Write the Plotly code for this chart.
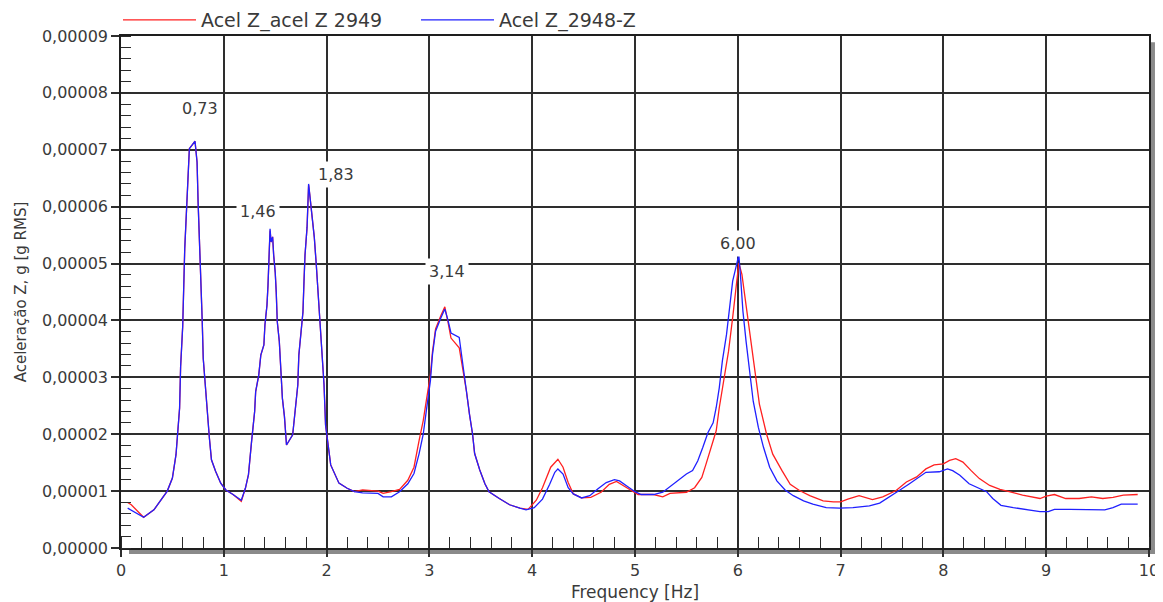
import plotly.graph_objects as go

# ---------------- data ----------------
SCALE = 1e-5  # values below are in units of 1e-5 g RMS

freq_2949 = [0.065, 0.10, 0.22, 0.32, 0.45, 0.50, 0.535, 0.55, 0.57, 0.58,
             0.60, 0.62, 0.64, 0.66, 0.665, 0.72, 0.74, 0.75, 0.765, 0.78,
             0.79, 0.80, 0.82, 0.84, 0.86, 0.88, 0.92, 0.97, 1.02, 1.09,
             1.17, 1.21, 1.24, 1.27, 1.30, 1.31, 1.34, 1.36, 1.39, 1.40,
             1.42, 1.43, 1.44, 1.45, 1.46, 1.475, 1.485, 1.50, 1.51, 1.52,
             1.54, 1.56, 1.57, 1.59, 1.61, 1.67, 1.69, 1.72, 1.73, 1.75,
             1.77, 1.78, 1.79, 1.81, 1.82, 1.825, 1.835, 1.85, 1.865, 1.88,
             1.90, 1.91, 1.93, 1.945, 1.96, 1.975, 1.99, 2.01, 2.04, 2.12,
             2.20, 2.27, 2.35, 2.50, 2.55, 2.63, 2.71, 2.79, 2.85, 2.90,
             2.94, 2.97, 3.01, 3.03, 3.06, 3.11, 3.15, 3.18, 3.21, 3.29,
             3.33, 3.36, 3.39, 3.42, 3.44, 3.49, 3.54, 3.58, 3.68, 3.78,
             3.88, 3.96, 4.04, 4.10, 4.18, 4.25, 4.30, 4.35, 4.40, 4.48,
             4.57, 4.67, 4.75, 4.82, 4.92, 5.03, 5.18, 5.27, 5.34, 5.50,
             5.58, 5.65, 5.69, 5.74, 5.79, 5.82, 5.86, 5.91, 5.95, 5.99,
             6.01, 6.04, 6.07, 6.12, 6.17, 6.21, 6.28, 6.34, 6.43, 6.51,
             6.60, 6.70, 6.83, 6.93, 7.00, 7.07, 7.18, 7.31, 7.41, 7.54,
             7.64, 7.74, 7.83, 7.91, 8.00, 8.06, 8.12, 8.19, 8.27, 8.35,
             8.45, 8.55, 8.64, 8.77, 8.94, 9.00, 9.08, 9.19, 9.32, 9.44,
             9.55, 9.65, 9.75, 9.89]
acel_2949 = [0.80, 0.76, 0.54, 0.67, 1.00, 1.23, 1.64, 1.99, 2.46, 3.19,
             3.89, 5.26, 5.96, 6.64, 7.02, 7.15, 6.78, 6.08, 5.41, 4.74,
             4.00, 3.33, 2.81, 2.40, 1.93, 1.55, 1.35, 1.14, 1.02, 0.94,
             0.82, 1.05, 1.29, 1.87, 2.40, 2.75, 3.04, 3.39, 3.57, 3.92,
             4.27, 4.62, 5.03, 5.58, 5.38, 5.47, 5.15, 4.85, 4.50, 3.98,
             3.63, 2.98, 2.63, 2.31, 1.81, 1.99, 2.34, 2.87, 3.39, 3.74,
             4.15, 4.68, 5.15, 5.64, 6.14, 6.38, 6.23, 5.96, 5.73, 5.47,
             4.97, 4.68, 4.18, 3.74, 3.27, 2.87, 2.16, 1.87, 1.46, 1.14,
             1.05, 0.99, 1.02, 1.00, 0.96, 0.99, 1.03, 1.19, 1.42, 1.89,
             2.24, 2.59, 3.05, 3.45, 3.85, 4.08, 4.24, 3.98, 3.69, 3.52,
             3.11, 2.76, 2.35, 2.00, 1.66, 1.37, 1.13, 0.99, 0.87, 0.76,
             0.70, 0.68, 0.84, 1.06, 1.42, 1.56, 1.42, 1.15, 0.95, 0.88,
             0.89, 0.98, 1.12, 1.17, 1.06, 0.94, 0.94, 0.90, 0.96, 0.98,
             1.06, 1.24, 1.47, 1.77, 2.06, 2.47, 2.94, 3.46, 4.05, 4.75,
             5.01, 4.81, 4.40, 3.75, 3.05, 2.53, 2.00, 1.65, 1.36, 1.12,
             1.01, 0.92, 0.83, 0.81, 0.81, 0.86, 0.92, 0.85, 0.90, 1.01,
             1.16, 1.25, 1.39, 1.46, 1.48, 1.54, 1.57, 1.51, 1.36, 1.22,
             1.10, 1.03, 0.99, 0.93, 0.87, 0.91, 0.94, 0.87, 0.87, 0.90,
             0.87, 0.89, 0.93, 0.94]

freq_2948 = [0.065, 0.22, 0.32, 0.45, 0.50, 0.535, 0.55, 0.57, 0.58, 0.60,
             0.62, 0.64, 0.66, 0.665, 0.72, 0.74, 0.75, 0.765, 0.78, 0.79,
             0.80, 0.82, 0.84, 0.86, 0.88, 0.92, 0.97, 1.02, 1.09, 1.17,
             1.21, 1.24, 1.27, 1.30, 1.31, 1.34, 1.36, 1.39, 1.40, 1.42,
             1.43, 1.44, 1.45, 1.46, 1.475, 1.485, 1.50, 1.51, 1.52, 1.54,
             1.56, 1.57, 1.59, 1.61, 1.67, 1.69, 1.72, 1.73, 1.75, 1.77,
             1.78, 1.79, 1.81, 1.82, 1.825, 1.835, 1.85, 1.865, 1.88, 1.90,
             1.91, 1.93, 1.945, 1.96, 1.975, 1.99, 2.01, 2.04, 2.12, 2.20,
             2.27, 2.35, 2.50, 2.55, 2.63, 2.71, 2.79, 2.85, 2.90, 2.94,
             2.97, 3.01, 3.03, 3.06, 3.11, 3.15, 3.18, 3.21, 3.29, 3.33,
             3.36, 3.39, 3.42, 3.44, 3.49, 3.54, 3.58, 3.68, 3.78, 3.88,
             3.94, 4.02, 4.10, 4.17, 4.22, 4.25, 4.30, 4.35, 4.40, 4.48,
             4.56, 4.64, 4.72, 4.80, 4.85, 4.92, 5.00, 5.06, 5.18, 5.27,
             5.35, 5.44, 5.50, 5.56, 5.61, 5.66, 5.71, 5.76, 5.79, 5.82,
             5.85, 5.89, 5.92, 5.95, 5.98, 6.01, 6.03, 6.05, 6.08, 6.12,
             6.15, 6.20, 6.25, 6.31, 6.38, 6.46, 6.54, 6.64, 6.73, 6.86,
             6.99, 7.12, 7.28, 7.38, 7.48, 7.57, 7.67, 7.77, 7.83, 7.96,
             8.04, 8.09, 8.16, 8.25, 8.35, 8.42, 8.48, 8.56, 8.68, 8.81,
             8.94, 9.02, 9.08, 9.23, 9.39, 9.57, 9.65, 9.73, 9.89]
acel_2948 = [0.70, 0.54, 0.67, 1.00, 1.23, 1.64, 1.99, 2.46, 3.19, 3.89,
             5.26, 5.96, 6.64, 7.02, 7.15, 6.78, 6.08, 5.41, 4.74, 4.00,
             3.33, 2.81, 2.40, 1.93, 1.55, 1.35, 1.14, 1.02, 0.94, 0.84,
             1.05, 1.29, 1.87, 2.40, 2.75, 3.04, 3.39, 3.57, 3.92, 4.27,
             4.62, 5.03, 5.61, 5.38, 5.47, 5.15, 4.85, 4.50, 3.98, 3.63,
             2.98, 2.63, 2.31, 1.81, 1.99, 2.34, 2.87, 3.39, 3.74, 4.15,
             4.68, 5.15, 5.64, 6.14, 6.40, 6.23, 5.96, 5.73, 5.47, 4.97,
             4.68, 4.18, 3.74, 3.27, 2.87, 2.16, 1.87, 1.46, 1.14, 1.05,
             0.99, 0.97, 0.96, 0.90, 0.90, 0.99, 1.13, 1.31, 1.66, 2.00,
             2.41, 2.94, 3.40, 3.81, 4.04, 4.20, 4.01, 3.78, 3.70, 3.11,
             2.76, 2.35, 2.00, 1.66, 1.37, 1.13, 0.99, 0.87, 0.76, 0.70,
             0.67, 0.71, 0.86, 1.12, 1.33, 1.39, 1.30, 1.06, 0.95, 0.88,
             0.92, 1.04, 1.15, 1.20, 1.18, 1.09, 0.99, 0.94, 0.94, 0.98,
             1.09, 1.23, 1.30, 1.36, 1.53, 1.77, 2.03, 2.20, 2.47, 2.82,
             3.29, 3.75, 4.22, 4.69, 4.92, 5.15, 4.69, 4.16, 3.64, 3.05,
             2.58, 2.12, 1.77, 1.42, 1.18, 1.02, 0.92, 0.83, 0.77, 0.71,
             0.70, 0.71, 0.74, 0.79, 0.90, 1.01, 1.13, 1.25, 1.33, 1.34,
             1.39, 1.36, 1.28, 1.13, 1.04, 0.99, 0.87, 0.75, 0.71, 0.67,
             0.64, 0.64, 0.68, 0.68, 0.68, 0.67, 0.71, 0.77, 0.77]

series_names = ["Acel Z_acel Z 2949", "Acel Z_2948-Z"]

# labelled peaks: frequency [Hz] and amplitude (1e-5 g RMS)
peak_freqs = [0.73, 1.46, 1.83, 3.14, 6.00]
peak_amps = [7.15, 5.61, 6.40, 4.20, 5.15]

x_tick_vals = [0, 1, 2, 3, 4, 5, 6, 7, 8, 9, 10]
y_tick_vals = [0, 1, 2, 3, 4, 5, 6, 7, 8, 9]

# ---------------- styling ----------------
FONT = "DejaVu Sans"
TEXT_COLOR = "#3a3a3a"
GRID_COLOR = "#2e2e2e"
FIG_W, FIG_H = 1155, 594   # page body has an 8 px default margin
label_offsets = [(4, 33), (-13, 17), (27, 9), (3, 38), (0, 12)]  # pixel shifts for peak labels

fig = go.Figure()
fig.add_trace(go.Scatter(
    x=freq_2949, y=[v * SCALE for v in acel_2949], mode="lines",
    name=series_names[0], legend="legend",
    line=dict(color="#ff2020", width=1.3)))
fig.add_trace(go.Scatter(
    x=freq_2948, y=[v * SCALE for v in acel_2948], mode="lines",
    name=series_names[1], legend="legend2",
    line=dict(color="#2020ff", width=1.3)))

for (f, a), (dx, dy) in zip(zip(peak_freqs, peak_amps), label_offsets):
    fig.add_annotation(
        x=f, y=a * SCALE, xref="x", yref="y",
        text=f"{f:.2f}".replace(".", ","), showarrow=False,
        xshift=dx, yshift=dy, bgcolor="white", borderpad=3,
        font=dict(family=FONT, size=16, color=TEXT_COLOR))

# frame shadow (bottom and right), as in the original software
fig.add_shape(type="rect", xref="paper", yref="paper", layer="below",
              x0=0.0078, x1=1.0058, y0=-0.0117, y1=0.0,
              fillcolor="#8a8a8a", line=dict(width=0))
fig.add_shape(type="rect", xref="paper", yref="paper", layer="below",
              x0=1.0, x1=1.0058, y0=-0.0117, y1=0.988,
              fillcolor="#8a8a8a", line=dict(width=0))

legend_style = dict(orientation="h", xref="container", xanchor="left",
                    yref="container", y=1 - 12 / FIG_H, yanchor="middle",
                    itemwidth=73,
                    font=dict(family=FONT, size=19, color=TEXT_COLOR),
                    bgcolor="rgba(0,0,0,0)", borderwidth=0)

fig.update_layout(
    width=FIG_W, height=FIG_H,
    margin=dict(l=113, r=14, t=28, b=54, autoexpand=False),
    paper_bgcolor="white", plot_bgcolor="white",
    separators=",.",
    font=dict(family=FONT, size=15, color=TEXT_COLOR),
    showlegend=True,
    legend=dict(x=110 / FIG_W, **legend_style),
    legend2=dict(x=408 / FIG_W, **legend_style),
    xaxis=dict(
        range=[0, 10], tickvals=x_tick_vals, ticktext=[str(v) for v in x_tick_vals],
        automargin=False,
        showgrid=True, gridcolor=GRID_COLOR, gridwidth=1.5,
        showline=True, linecolor="#1e1e1e", linewidth=1.5, mirror=True,
        ticks="outside", ticklen=7, tickwidth=1.5, tickcolor=GRID_COLOR,
        minor=dict(dtick=0.2, tick0=0, ticks="inside", ticklen=11, tickwidth=1.3,
                   tickcolor="#2a2a2a", showgrid=False),
        tickfont=dict(family=FONT, size=16, color=TEXT_COLOR),
        title=dict(text="Frequency [Hz]", standoff=8,
                   font=dict(family=FONT, size=17, color=TEXT_COLOR)),
        zeroline=False),
    yaxis=dict(
        range=[0, 9e-5], tickvals=[v * SCALE for v in y_tick_vals], tickformat=".5f",
        automargin=False,
        showgrid=True, gridcolor=GRID_COLOR, gridwidth=1.5,
        showline=True, linecolor="#1e1e1e", linewidth=1.5, mirror=True,
        ticks="outside", ticklen=8, tickwidth=1.5, tickcolor=GRID_COLOR,
        minor=dict(dtick=0.2 * SCALE, tick0=0, ticks="inside", ticklen=10, tickwidth=1.3,
                   tickcolor="#2a2a2a", showgrid=False),
        tickfont=dict(family=FONT, size=16, color=TEXT_COLOR),
        title=dict(text="Aceleração Z, g [g RMS]", standoff=12,
                   font=dict(family=FONT, size=15, color=TEXT_COLOR)),
        zeroline=False),
)

fig.write_html("out.html")
